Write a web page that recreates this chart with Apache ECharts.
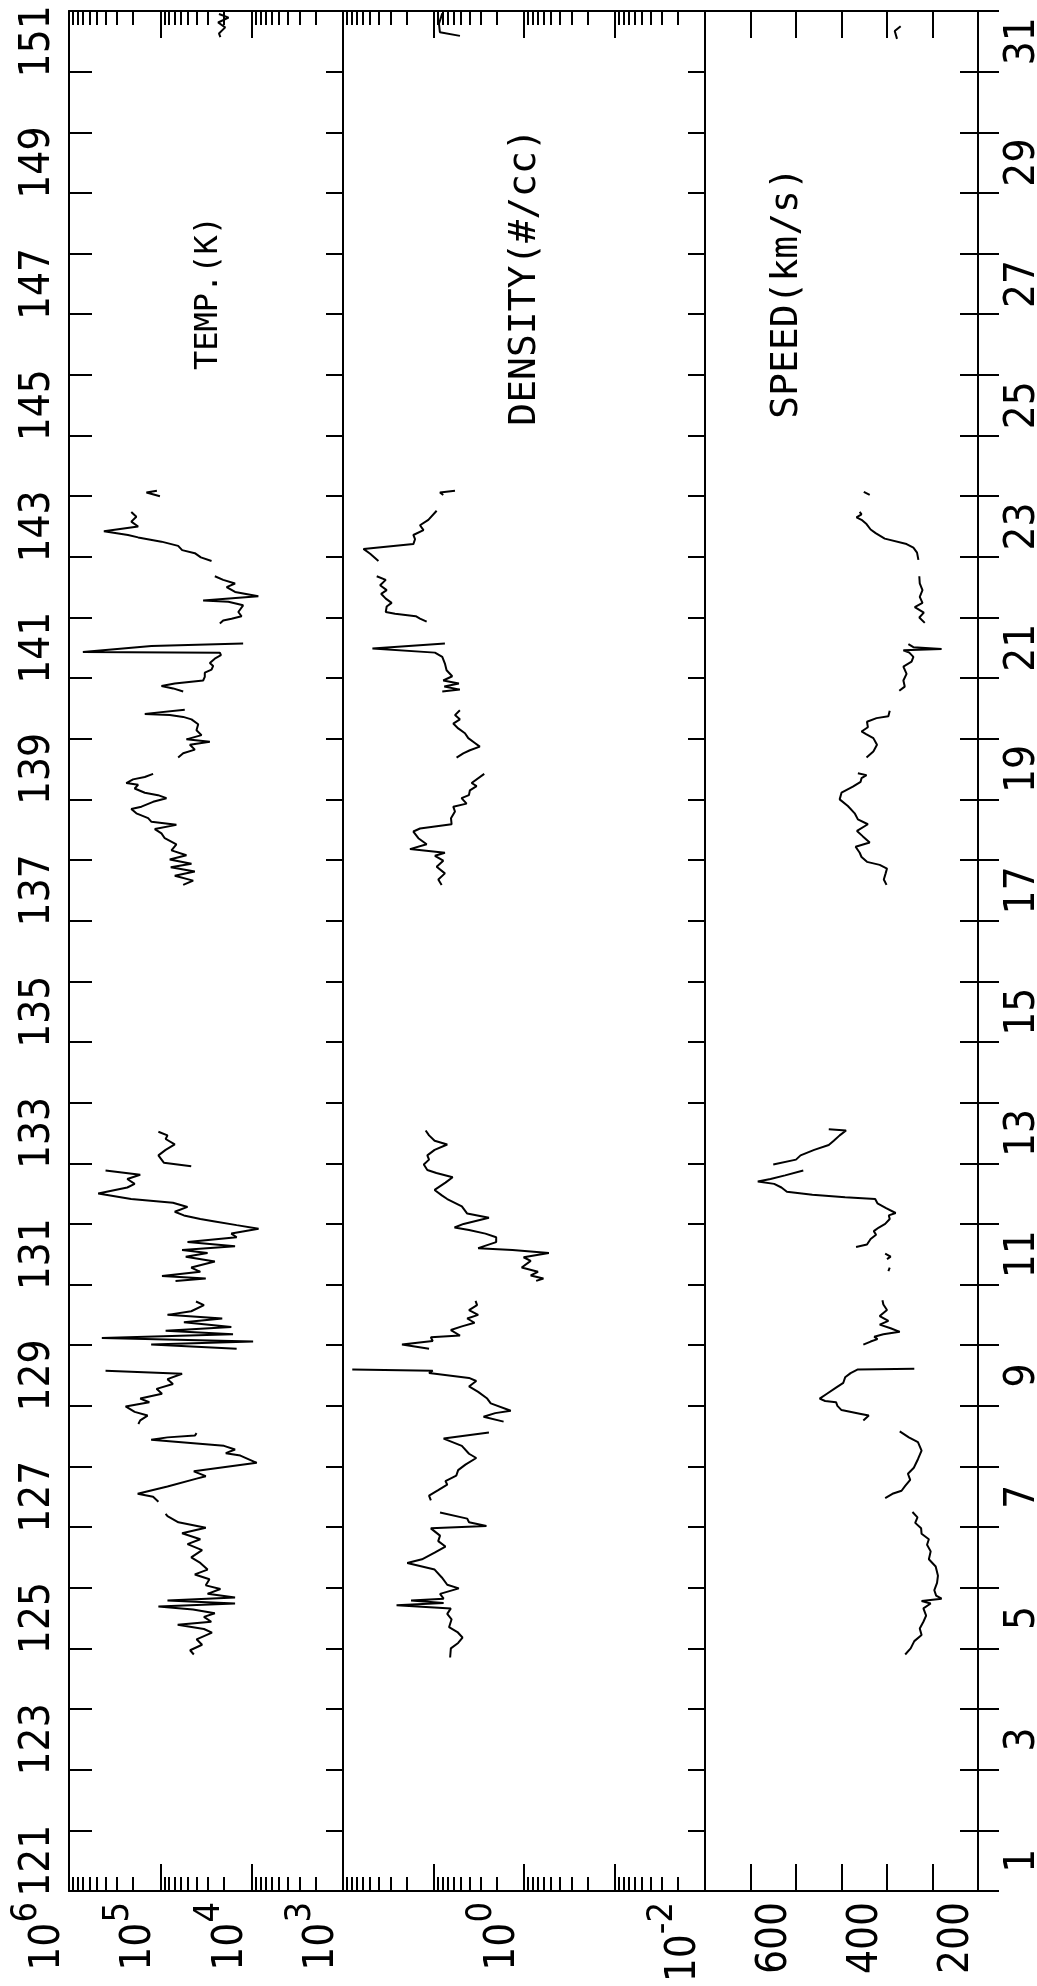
<!DOCTYPE html>
<html>
<head>
<meta charset="utf-8">
<script src="https://cdn.jsdelivr.net/npm/echarts@6/dist/echarts.min.js"></script>
<style>
html,body{margin:0;padding:0;background:#fff;}
#main{width:1037px;height:1986px;}
</style>
</head>
<body>
<div id="main"></div>
<script>
var doyLabels = ['121','122','123','124','125','126','127','128','129','130','131','132','133','134','135','136',
	'137','138','139','140','141','142','143','144','145','146','147','148','149','150','151'];
var domLabels = ['1','2','3','4','5','6','7','8','9','10','11','12','13','14','15','16',
	'17','18','19','20','21','22','23','24','25','26','27','28','29','30','31'];

var tempMajor = [1e3, 1e4, 1e5, 1e6];
var tempMinor = [2e3,3e3,4e3,5e3,6e3,7e3,8e3,9e3, 2e4,3e4,4e4,5e4,6e4,7e4,8e4,9e4, 2e5,3e5,4e5,5e5,6e5,7e5,8e5,9e5];
var densMajor = [0.01, 0.1, 1, 10, 100];
var densMinor = [0.02,0.03,0.04,0.05,0.06,0.07,0.08,0.09, 0.2,0.3,0.4,0.5,0.6,0.7,0.8,0.9, 2,3,4,5,6,7,8,9, 20,30,40,50,60,70,80,90];
var tempLabels = [1e3, 1e4, 1e5, 1e6];
var densLabels = [0.01, 1];
var speedLabels = [200, 400, 600];

// day of year, null = data gap
var tempDay = [124.90,124.97,125.06,125.15,125.26,125.32,125.39,125.44,125.52,125.58,125.64,125.69,125.74,125.79,125.84,125.90,125.98,126.04,126.14,126.22,126.30,126.41,126.50,126.62,126.72,126.80,126.90,126.99,127.08,127.18,127.22,null,
	127.42,127.50,127.55,127.67,127.80,127.84,127.92,128.06,128.18,128.22,128.28,128.34,128.38,128.44,128.48,128.51,128.55,null,
	128.70,128.76,128.84,128.90,128.99,129.06,129.12,129.20,129.28,129.36,129.44,129.53,129.58,null,
	129.94,130.01,130.06,130.12,130.18,130.24,130.30,130.38,130.44,130.50,130.56,130.66,130.72,null,
	131.06,131.10,131.14,131.21,131.28,131.38,131.46,131.52,131.57,131.63,131.70,131.78,131.84,131.92,131.98,132.04,132.08,132.14,132.20,132.28,132.35,132.41,132.50,132.60,132.66,132.74,132.81,132.88,null,
	132.95,133.01,133.13,133.22,133.31,133.40,133.46,133.52,null,
	137.59,137.66,137.74,137.81,137.88,137.94,138.01,138.08,138.16,138.26,138.36,138.44,138.51,138.58,138.63,138.69,138.77,138.84,138.88,138.96,139.02,139.07,139.11,139.18,139.24,139.27,139.33,139.37,139.42,null,
	139.69,139.76,139.82,139.90,139.95,139.99,140.06,140.14,140.24,140.32,140.36,140.39,140.41,140.48,null,
	140.78,140.83,140.87,140.91,140.96,141.02,141.09,141.14,141.20,141.25,141.33,141.38,141.42,141.43,141.53,141.57,null,
	141.90,141.95,141.98,142.02,142.09,142.20,142.26,142.28,142.35,142.42,142.50,142.56,142.62,142.68,null,
	142.93,142.99,143.06,143.11,143.18,143.25,143.32,143.36,143.42,143.50,143.58,143.66,143.74,null,
	144.00,144.06,144.09,null,
	151.57,151.63,151.73,151.81,151.89,151.95];
var tempK = [43000,47200,34900,40100,27200,33300,64600,27700,33300,25300,43900,105000,15200,83500,15200,30400,22000,31800,29000,41900,30400,36500,45900,34900,50400,36500,57800,31800,63400,83500,87500,null,
	105000,120000,177000,83500,40100,31800,43000,8800,13300,19200,15200,20100,40100,126000,83500,41900,40100,null,
	174000,166000,138000,191000,240000,132000,166000,95900,110000,72800,83500,57800,398000,null,
	14600,126000,9640,437000,16000,87500,16700,55200,21000,83500,45900,33300,40700,null,
	68200,31800,95900,36500,45900,25300,52700,30400,57800,15200,50400,14600,16700,8400,14600,25300,36500,55200,69500,50400,72800,209000,479000,230000,191000,230000,166000,398000,null,
	45900,91600,105000,87500,69500,87500,83500,105000,null,
	56200,43700,69500,41900,76900,45600,78900,51800,75500,66700,89500,97200,115000,66700,125000,136000,183000,208000,161000,120000,85700,106000,148000,191000,175000,236000,199000,148000,120000,null,
	63800,56200,41900,47500,28700,51800,35400,40200,38500,45600,56200,78900,148000,54000,null,
	56200,72400,97200,69500,34000,32600,32600,27500,26400,28700,24800,21700,22300,705000,125000,12400,null,
	22300,20500,16600,12900,14000,12400,18000,34000,8450,15200,18800,15200,20500,25300,null,
	27500,36000,41900,57700,63800,97200,175000,226000,415000,175000,208000,183000,208000,null,
	101000,142000,109000,null,
	22000,22800,19500,23300,17900,22800];

var densDay = [124.85,125.00,125.09,125.18,125.27,125.35,125.48,125.57,125.66,125.71,125.75,125.79,125.82,125.90,125.99,126.05,126.17,126.30,126.41,126.47,126.58,126.68,126.77,126.86,126.98,127.02,127.08,127.14,127.24,null,
	127.44,127.52,127.61,127.70,127.76,127.85,127.94,128.03,128.14,128.21,128.34,128.46,128.56,null,
	128.74,128.82,128.88,128.92,129.04,129.12,129.23,129.32,129.41,129.46,129.54,129.58,129.60,null,
	129.94,130.01,130.07,130.13,130.16,130.25,130.31,130.37,130.44,130.50,130.58,130.66,130.73,null,
	131.06,131.10,131.15,131.21,131.28,131.39,131.45,131.52,131.57,131.60,131.70,131.78,131.84,131.90,131.94,132.00,132.10,132.17,132.29,132.41,132.47,132.56,132.68,132.77,132.84,132.89,132.98,133.06,133.13,133.22,133.31,133.37,133.46,133.54,null,
	137.59,137.68,137.78,137.89,137.99,138.07,138.12,138.18,138.26,138.36,138.47,138.52,138.59,138.69,138.80,138.88,138.93,139.02,139.07,139.15,139.22,139.27,139.42,null,
	139.69,139.76,139.81,139.87,139.93,140.01,140.09,140.17,140.25,140.32,140.39,140.47,null,
	140.78,140.81,140.86,140.91,140.96,141.03,141.13,141.24,141.35,141.42,141.49,141.57,null,
	141.93,141.98,142.02,142.06,142.09,142.18,142.24,142.31,142.39,142.45,142.53,142.62,142.68,null,
	142.93,143.05,143.13,143.21,143.29,143.36,143.44,143.52,143.61,143.76,null,
	144.02,144.06,144.09,null,
	151.59,151.65,151.79,151.96];
var densCC = [6.55,6.43,5.34,4.78,5.44,6.73,6.31,7.05,6.43,25.6,7.73,17.7,7.73,8.47,5.25,7.05,8.09,9.72,19.5,13.4,9.72,7.38,8.87,8.47,10.7,2.60,4.05,4.24,8.47,null,
	10.7,11.2,8.87,7.05,7.38,5.60,5.34,4.44,3.37,4.05,4.86,7.73,2.44,null,
	1.68,2.80,2.08,1.40,2.33,2.55,3.21,4.05,3.37,4.05,11.2,10.2,79,null,
	11.2,22.3,10.2,10.7,5.10,6.43,4.86,3.52,4.24,3.21,4.05,3.30,3.43,null,
	0.734,0.610,0.843,0.701,1.06,0.843,1.01,0.531,1.34,3.21,2.03,2.03,2.67,4.05,5.86,4.65,2.44,4.24,4.86,7.05,8.09,9.72,7.38,6.14,9.29,11.7,12.8,11.2,11.7,9.72,7.05,9.72,11.2,12.2,null,
	8.13,8.85,7.48,9.23,7.80,9.64,7.48,18.2,11.9,14.7,16.7,14.1,6.31,6.41,5.79,6.05,4.31,4.90,4.06,3.96,3.34,3.79,2.75,null,
	5.56,4.69,3.96,3.08,3.49,4.13,4.49,5.33,6.05,5.11,5.79,5.11,null,
	8.00,5.11,7.60,5.24,7.80,6.21,7.17,7.48,8.00,9.64,47.3,7.48,null,
	11.9,14.1,15.7,26.6,33.7,32.9,29.0,33.7,37.9,32.9,38.9,33.7,42.4,null,
	40.6,50.1,59.4,16.7,16.0,16.7,12.9,14.1,11.4,9.23,null,
	7.80,8.49,5.79,null,
	5.1,8.5,8.7,8.0];

var speedDay = [124.90,125.00,125.12,125.22,125.33,125.44,125.54,125.66,125.74,125.78,125.82,125.87,125.96,126.08,126.20,126.35,126.47,126.60,126.71,126.80,126.89,126.98,127.07,127.16,127.25,null,
	127.48,127.55,127.60,127.68,127.78,127.88,127.98,128.12,128.26,128.40,128.48,128.58,null,
	128.76,128.84,128.87,128.93,129.00,129.06,129.08,129.12,129.20,129.30,129.38,129.47,129.54,129.60,129.61,null,
	130.01,130.06,130.10,130.14,130.18,130.22,130.28,130.34,130.40,130.48,130.58,130.67,130.74,null,
	131.22,131.28,null,
	131.42,131.46,131.51,null,
	131.62,131.66,131.75,131.82,131.88,131.94,132.00,132.08,132.14,132.18,132.26,132.34,132.41,132.44,132.48,132.53,132.60,132.66,132.70,132.74,132.80,132.88,null,
	132.98,133.06,133.13,133.22,133.30,133.37,133.46,133.54,133.56,null,
	137.59,137.68,137.78,137.86,137.92,137.97,138.05,138.12,138.22,138.29,138.39,138.48,138.59,138.67,138.77,138.89,139.00,139.11,139.21,139.29,139.35,139.40,139.43,null,
	139.69,139.79,139.90,140.01,140.08,140.12,140.19,140.28,140.34,140.37,140.46,null,
	140.79,140.86,140.96,141.07,141.19,141.27,141.35,141.42,141.46,141.48,141.51,141.56,null,
	141.91,142.00,142.08,142.17,142.24,142.34,142.45,142.56,142.68,null,
	142.95,143.07,143.15,143.21,143.30,143.39,143.45,143.54,143.61,143.65,143.70,143.74,null,
	144.02,144.07,null,
	151.54,151.67,151.75];
var speedKms = [360,348,340,324,328,320,314,320,304,324,280,292,296,290,288,293,308,304,312,308,324,325,338,333,344,null,
	404,388,368,360,349,354,341,332,324,332,352,372,null,
	452,440,460,500,509,512,536,548,532,512,496,492,480,464,340,null,
	452,436,421,428,408,372,392,416,397,416,400,408,410,null,
	397,394,null,
	400,392,404,null,
	468,444,436,424,429,418,404,394,396,381,402,421,426,492,564,620,632,648,684,656,624,584,null,
	650,600,590,560,528,517,504,490,528,null,
	401,407,403,400,416,444,456,460,469,438,453,466,442,464,471,486,504,500,475,458,456,445,464,null,
	445,430,422,430,447,456,442,444,423,397,394,null,
	373,361,364,357,364,346,342,351,364,280,342,353,null,
	317,329,319,339,322,328,322,328,329,null,
	331,334,342,357,405,425,436,445,456,467,456,460,null,
	438,451,null,
	378,383,370];

var FONT = "'Liberation Sans Narrow','DejaVu Sans Condensed','DejaVu Sans Mono',sans-serif";
var TITLE_FONT = "'DejaVu Sans Mono',monospace";
var INK = '#000';

function pairs(vals, days)
{
	var out = [];
	for (var i = 0; i < days.length; i++) {
		if (days[i] == null) out.push(['-', '-']);
		else out.push([vals[i], days[i]]);
	}
	return out;
}

function edgeAxis(grid, pos, kind, min, max, ticks, len, showLine)
{
	var ax = {
		gridIndex: grid, type: kind, position: pos, min: min, max: max, inverse: true,
		axisLine: {show: showLine, lineStyle: {color: INK, width: 2}},
		axisTick: {show: true, inside: true, length: len, lineStyle: {color: INK, width: 2}},
		axisLabel: {show: false},
		splitLine: {show: false}
	};
	if (kind == 'log') ax.logBase = 10;
	if (ticks) ax.axisTick.customValues = ticks;
	return ax;
}

function powLabel(vals)
{
	return {
		show: true, customValues: vals, rotate: 90, margin: 11, verticalAlign: 'bottom', color: INK,
		formatter: function (v) {
			return '{b|10}{s|' + Math.round(Math.log(v) / Math.LN10) + '}';
		},
		rich: {
			b: {fontFamily: FONT, fontSize: 42, color: INK, lineHeight: 30, verticalAlign: 'bottom'},
			s: {fontFamily: FONT, fontSize: 36, color: INK, lineHeight: 60, verticalAlign: 'top'}
		}
	};
}

function dayAxis(grid, pos, labels, len, inside, showLabel, margin)
{
	return {
		gridIndex: grid, type: 'category', position: pos, data: labels, boundaryGap: true,
		axisLine: {show: true, lineStyle: {color: INK, width: 2}},
		axisTick: {show: true, inside: inside, length: len, interval: 0, lineStyle: {color: INK, width: 2}},
		axisLabel: {show: showLabel, interval: 1, rotate: 90, margin: margin || 10, color: INK,
			fontFamily: FONT, fontSize: 42},
		splitLine: {show: false}
	};
}

var xAxes = [];
xAxes.push(edgeAxis(0, 'bottom', 'log', 1e3, 1e6, tempMajor, 27, true));
xAxes[0].axisLabel = powLabel(tempLabels);
xAxes.push(edgeAxis(0, 'bottom', 'log', 1e3, 1e6, tempMinor, 14, false));
xAxes.push(edgeAxis(0, 'top', 'log', 1e3, 1e6, tempMajor, 27, true));
xAxes.push(edgeAxis(0, 'top', 'log', 1e3, 1e6, tempMinor, 14, false));
xAxes.push(edgeAxis(1, 'bottom', 'log', 0.01, 100, densMajor, 27, true));
xAxes[4].axisLabel = powLabel(densLabels);
xAxes.push(edgeAxis(1, 'bottom', 'log', 0.01, 100, densMinor, 14, false));
xAxes.push(edgeAxis(1, 'top', 'log', 0.01, 100, densMajor, 27, true));
xAxes.push(edgeAxis(1, 'top', 'log', 0.01, 100, densMinor, 14, false));
xAxes.push(edgeAxis(2, 'bottom', 'value', 200, 800, null, 27, true));
xAxes[8].interval = 100;
xAxes[8].axisLabel = {show: true, customValues: speedLabels, rotate: 90, margin: 11, verticalAlign: 'bottom',
	color: INK, fontFamily: FONT, fontSize: 42};
xAxes.push(edgeAxis(2, 'top', 'value', 200, 800, null, 27, true));
xAxes[9].interval = 100;

var yAxes = [
	{gridIndex: 0, type: 'value', min: 121, max: 152, show: false},
	{gridIndex: 1, type: 'value', min: 121, max: 152, show: false},
	{gridIndex: 2, type: 'value', min: 121, max: 152, show: false},
	dayAxis(0, 'left', doyLabels, 23, true, true, 10),
	dayAxis(0, 'right', doyLabels, 17, true, false),
	dayAxis(1, 'right', doyLabels, 17, true, false),
	dayAxis(2, 'right', domLabels, 18, true, false),
	dayAxis(2, 'right', domLabels, 21, false, true, 24)
];

function trace(xi, yi, data)
{
	return {
		type: 'line', xAxisIndex: xi, yAxisIndex: yi, data: data,
		showSymbol: false, symbol: 'none', connectNulls: false, silent: true,
		lineStyle: {color: INK, width: 2}
	};
}

function title(x, y, text, size)
{
	return {
		type: 'text', x: x, y: y, rotation: Math.PI / 2, silent: true,
		style: {text: text, font: size + 'px ' + TITLE_FONT, fill: INK, align: 'center', verticalAlign: 'middle',
			textAlign: 'center', textVerticalAlign: 'middle'}
	};
}

var option = {
	animation: false,
	backgroundColor: '#fff',
	grid: [
		{left: 69, top: 11, width: 274, height: 1880, outerBoundsMode: 'none'},
		{left: 343, top: 11, width: 362, height: 1880, outerBoundsMode: 'none'},
		{left: 705, top: 11, width: 273, height: 1880, outerBoundsMode: 'none'}
	],
	xAxis: xAxes,
	yAxis: yAxes,
	graphic: [
		title(209, 293, 'TEMP.(K)', 32),
		title(525, 277, 'DENSITY(#/cc)', 38),
		title(787, 293, 'SPEED(km/s)', 38)
	],
	series: [
		trace(0, 0, pairs(tempK, tempDay)),
		trace(4, 1, pairs(densCC, densDay)),
		trace(8, 2, pairs(speedKms, speedDay))
	]
};

var myChart = echarts.init(document.getElementById('main'));
myChart.setOption(option);
</script>
</body>
</html>
